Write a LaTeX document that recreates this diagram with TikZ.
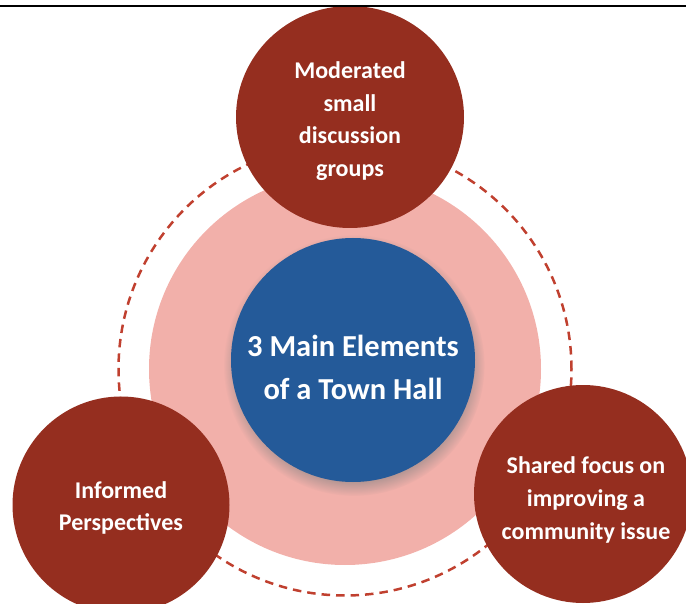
\documentclass[tikz,border=0pt]{standalone}
\usepackage{fontspec}
\setmainfont{Carlito}
\usetikzlibrary{shapes.geometric,shadows}
\definecolor{darkred}{HTML}{952E1F}
\definecolor{pinkfill}{HTML}{F2B0AA}
\definecolor{bluefill}{HTML}{245A99}
\definecolor{dashred}{HTML}{C0402F}
\tikzset{
  element/.style={circle, fill=darkred, inner sep=0pt},
  elemtext/.style={text=white, align=center, inner sep=0pt,
    font=\fontsize{24}{32.7}\selectfont\bfseries},
  ring/.style={draw=dashred, line width=2.5pt, dash pattern=on 8.5pt off 6pt},
}
\begin{document}
\begin{tikzpicture}[x=1pt,y=-1pt]
\useasboundingbox (0,0) rectangle (686,604);
% dashed ring
\node[circle, ring, minimum size=453pt, inner sep=0pt] (ring) at (345,369) {};
% pink disc
\node[circle, fill=pinkfill, minimum size=392pt, inner sep=0pt] (pink) at (345,369) {};
% blue centre
\node[circle, fill=bluefill, minimum size=244pt, inner sep=0pt,
  circular drop shadow={shadow xshift=1pt, shadow yshift=-5pt, shadow scale=1.07, opacity=0.7}]
  (center) at (353,360) {};
\node[text=white, align=center, inner sep=0pt, font=\fontsize{30.5}{43}\selectfont\bfseries]
  (centertext) at ([yshift=-7pt]center.center) {3 Main Elements\\ of a Town Hall};
% three elements
\node[element, ellipse, minimum width=228pt, minimum height=222pt] (top) at (350,117) {};
\node[elemtext] (toptext) at ([yshift=-4pt]top.center) {Moderated\\ small\\ discussion\\ groups};
\node[element, minimum size=217pt] (left) at (121,505) {};
\node[elemtext] (lefttext) at ([yshift=-3pt]left.center) {Informed\\ Perspectives};
\node[element, minimum size=218pt] (right) at (583,494) {};
\node[elemtext] (righttext) at ([xshift=3pt,yshift=-6pt]right.center)
  {Shared focus on\\ improving a\\ community issue};
% top rule
\draw[line width=2.3pt] (0,6) -- (686,6);
\end{tikzpicture}
\end{document}
